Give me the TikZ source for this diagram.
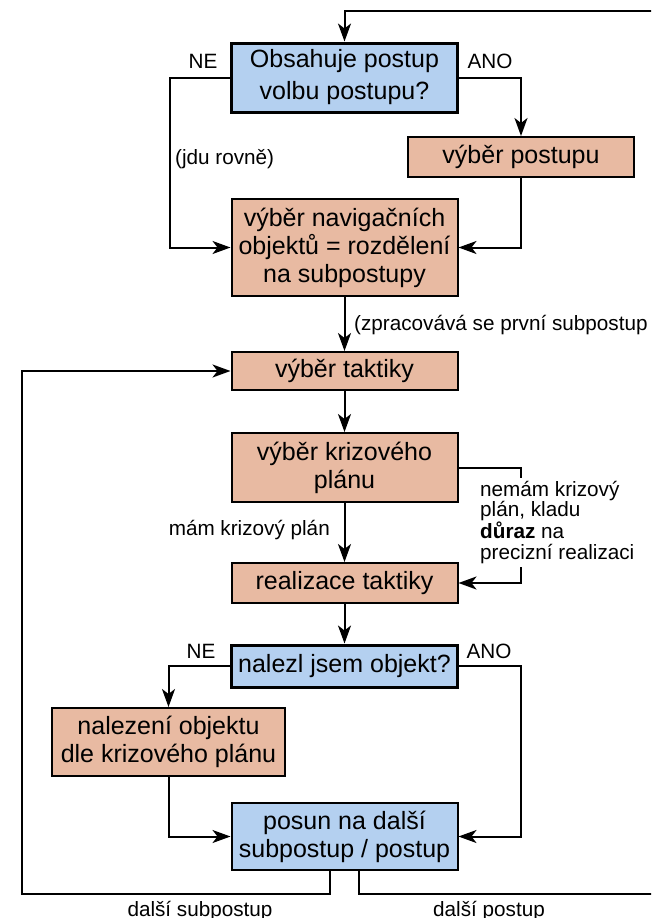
\documentclass[tikz,border=0pt]{standalone}
\usepackage{fontspec}
\setmainfont{Liberation Sans}
\usetikzlibrary{arrows.meta}
\definecolor{qblue}{RGB}{180,208,240}
\definecolor{salmon}{RGB}{232,186,162}
\begin{document}
\begin{tikzpicture}[x=1pt,y=-1pt,
  box/.style={draw,line width=2pt,fill=salmon,minimum width=226pt,inner sep=0pt,align=center,font=\fontsize{25}{28}\selectfont},
  qbox/.style={box,fill=qblue,line width=3pt},
  conn/.style={line width=2pt,-{Stealth[length=18pt,width=13pt,inset=5pt]}},
  lbl/.style={font=\fontsize{20.7}{20.5}\selectfont,inner sep=0pt}]
\clip (0,0) rectangle (651,918);
\fill[white] (0,0) rectangle (651,918);
% boxes
\node[qbox,minimum height=69pt,font=\fontsize{25}{32}\selectfont] (q1) at (344.5,77.5) {Obsahuje postup\\volbu postupu?};
\node[box,minimum height=40pt] (vp) at (521,157) {výběr postupu};
\node[box,minimum height=97pt] (nav) at (344.5,247.5) {výběr navigačních\\objektů = rozdělení\\na subpostupy};
\node[box,minimum height=38pt] (tak) at (344.5,371) {výběr taktiky};
\node[box,minimum height=69pt] (kriz) at (344.5,467.5) {výběr krizového\\plánu};
\node[box,minimum height=40pt] (real) at (344.5,583) {realizace taktiky};
\node[qbox,minimum height=42pt] (q2) at (344.5,666) {nalezl jsem objekt?};
\node[box,minimum height=68pt,minimum width=233pt] (nalez) at (168.5,742) {nalezení objektu\\dle krizového plánu};
\node[box,fill=qblue,minimum height=67pt] (posun) at (344.5,836.5) {posun na další\\subpostup / postup};
% helper coordinates
\coordinate (cL) at (170,0);
\coordinate (cR) at (521,0);
\coordinate (bl) at (22,894);
\coordinate (br) at (656,894);
\coordinate (tr) at (656,11);
% connectors
\draw[conn] (q1.west) -| (cL |- nav.west) -- (nav.west);
\draw[conn] (q1.east) -| (vp.north);
\draw[conn] (vp.south) |- (nav.east);
\draw[conn] (nav.south) -- (tak.north);
\draw[conn] (tak.south) -- (kriz.north);
\draw[conn] (kriz.south) -- (real.north);
\draw[conn] (kriz.east) -- (kriz.east -| cR) |- (real.east);
\draw[conn] (real.south) -- (q2.north);
\draw[conn] (q2.west) -| (nalez.north);
\draw[conn] (q2.east) -| (cR |- posun.east) -- (posun.east);
\draw[conn] (nalez.south) |- (posun.west);
\draw[conn] ([xshift=-14.5pt]posun.south) |- (bl) |- (tak.west);
\draw[conn] ([xshift=14.5pt]posun.south) |- (br) -- (tr) -| (q1.north);
% labels
\node[lbl,anchor=base] (ne1) at (203,68) {NE};
\node[lbl,anchor=base] (ano1) at (490,68) {ANO};
\node[lbl,anchor=base west] (jdu) at (175,164) {(jdu rovně)};
\node[lbl,anchor=base west] (zprac) at (354,330) {(zpracovává se první subpostup};
\node[lbl,anchor=base east] (mam) at (330,535) {mám krizový plán};
\node[lbl,anchor=north west,align=left,fill=white,inner sep=3pt] (nemam) at (477,478) {nemám krizový\\plán, kladu\\\textbf{důraz} na\\precizní realizaci};
\node[lbl,anchor=base] (ne2) at (201,658) {NE};
\node[lbl,anchor=base] (ano2) at (489,658) {ANO};
\node[lbl,anchor=base] (dsub) at (200,916) {další subpostup};
\node[lbl,anchor=base] (dpos) at (489,916) {další postup};
\end{tikzpicture}
\end{document}
